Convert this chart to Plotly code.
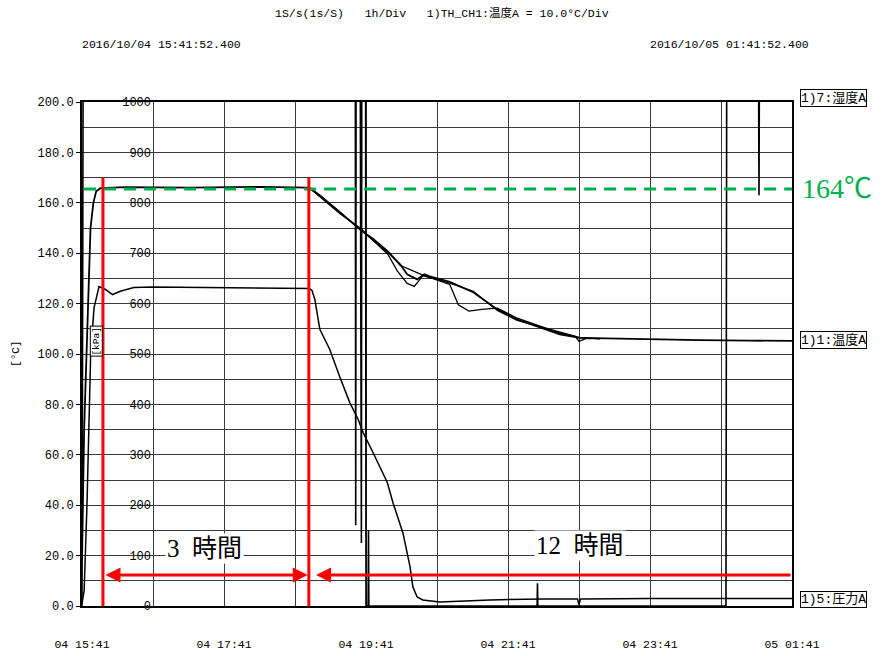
import plotly.graph_objects as go

# ---------------- data (hours since 2016/10/04 15:41:52) ----------------
temp_t = [0.0, 0.03, 0.075, 0.12, 0.16, 0.2, 0.26, 0.6, 1.5, 2.5, 3.2,
          3.35, 3.63, 3.92, 4.10, 4.31, 4.48, 4.58, 4.72, 4.82, 4.90, 5.18,
          5.51, 5.85, 6.13, 6.45, 6.73, 7.01, 7.30, 8.0, 8.7, 9.41, 10.0]
temp_v = [18, 70, 110, 150, 160, 164.6, 165.8, 166.2, 166.0, 166.3, 166.0,
          162.8, 156.2, 149.5, 145.5, 140.4, 135.6, 131.6, 129.6, 131.6, 130.8, 128.6,
          124.5, 117.7, 113.7, 110.5, 107.8, 106.4, 106.2, 105.8, 105.5, 105.3, 105.2]

temp2_t = [3.2, 3.35, 3.63, 3.92, 4.10, 4.31, 4.44, 4.58, 4.68, 4.80, 4.90,
           5.18, 5.51, 5.85, 6.13, 6.45, 6.73, 6.95, 7.0, 7.1, 7.3]
temp2_v = [166.0, 162.4, 155.8, 149.9, 145.0, 139.5, 133.0, 128.0, 126.8, 131.0, 130.4,
           128.1, 124.9, 117.3, 113.3, 110.9, 108.6, 107.0, 105.0, 106.2, 106.0]

temp3_t = [3.2, 3.35, 3.63, 3.92, 4.10, 4.31, 4.48, 4.80, 5.18, 5.30, 5.45,
           5.63, 5.85, 6.13, 6.45, 6.73, 7.0, 7.3]
temp3_v = [166.0, 163.1, 156.5, 149.2, 145.8, 140.8, 135.2, 131.3, 127.6, 119.5, 117.0,
           117.7, 118.2, 114.2, 111.1, 108.3, 106.6, 106.1]

pres_t = [0.0, 0.03, 0.07, 0.10, 0.122, 0.17, 0.24, 0.33, 0.43, 0.55, 0.73, 1.0,
          1.5, 2.0, 2.5, 3.0, 3.2, 3.24, 3.28, 3.35, 3.49, 3.63, 3.77, 3.89,
          3.96, 4.10, 4.30, 4.38, 4.52, 4.62, 4.66, 4.72, 4.80, 5.04, 5.75,
          6.5, 6.98, 7.0, 7.02, 8.0, 9.0, 10.0]
pres_v = [5, 30, 200, 354, 499, 592, 634, 628, 618, 625, 632, 633,
          632, 631, 630, 630, 630, 626, 608, 549, 509, 455, 404, 370,
          344, 304, 245, 205, 145, 78, 38, 18, 12, 8, 12,
          14, 14, 2, 14, 15, 15, 15]

# humidity is off-scale (above 200) most of the time
hum_t = [0.0, 0.015, 3.85, 3.855, 3.86, 3.92, 3.925, 3.935, 3.94, 3.995, 4.0,
         4.03, 4.035, 4.04, 6.41, 6.415, 6.42, 9.07, 9.08, 9.53, 9.535, 9.54, 10.0]
hum_v = [0, 203, 203, 32, 203, 203, 25, 25, 203, 203, 0,
         0, 30, 0, 0, 9, 0, 0, 203, 203, 163, 203, 203]

x_tick_vals = [0, 2, 4, 6, 8, 10]
x_tick_text = ["04 15:41", "04 17:41", "04 19:41", "04 21:41", "04 23:41", "05 01:41"]
y_tick_vals = [0, 20, 40, 60, 80, 100, 120, 140, 160, 180, 200]
y_tick_text = ["0.0", "20.0", "40.0", "60.0", "80.0", "100.0", "120.0",
               "140.0", "160.0", "180.0", "200.0"]

phase_marks = [0.295, 3.195]          # start / end of holding (h)
hold_level = 165.5                    # holding temperature line
hold_label = "164℃"
arrow_level = 12.3
arrow1 = [0.31, 3.18]
arrow2 = [3.296, 10.0]
phase_texts = ["3\u2002時間", "12\u2002時間"]
phase_text_pos = [(1.72, 23.0), (7.01, 24.0)]

header = "1S/s(1s/S)   1h/Div   1)TH_CH1:温度A = 10.0°C/Div"
date_left = "2016/10/04 15:41:52.400"
date_right = "2016/10/05 01:41:52.400"
ch_labels = [("1)7:湿度A", 201.5), ("1)1:温度A", 105.5), ("1)5:圧力A", 2.5)]

# ---------------- figure ----------------
MONO = "Liberation Mono, Noto Sans CJK JP, monospace"
SERIF = "Liberation Serif, Noto Sans CJK JP"
Y_MAX = 200.0
fig = go.Figure()

fig.add_trace(go.Scatter(x=hum_t, y=hum_v, mode="lines", line=dict(color="black", width=1.6),
                         showlegend=False, hoverinfo="skip"))
fig.add_trace(go.Scatter(x=temp2_t, y=temp2_v, mode="lines", line=dict(color="black", width=1.3),
                         showlegend=False))
fig.add_trace(go.Scatter(x=temp3_t, y=temp3_v, mode="lines", line=dict(color="black", width=1.3),
                         showlegend=False))
fig.add_trace(go.Scatter(x=temp_t, y=temp_v, mode="lines", line=dict(color="black", width=1.8),
                         showlegend=False))
fig.add_trace(go.Scatter(x=pres_t, y=pres_v, mode="lines", yaxis="y2",
                         line=dict(color="black", width=1.5), showlegend=False))

# holding level dashed line
fig.add_trace(go.Scatter(x=[0.03, 10.0], y=[hold_level, hold_level], mode="lines",
                         line=dict(color="#00B050", width=3, dash="12px,8px"),
                         showlegend=False, cliponaxis=False))

# red vertical phase lines
for m in phase_marks:
    fig.add_shape(type="line", x0=m, x1=m, y0=-0.6, y1=170, xref="x", yref="y",
                  line=dict(color="#FF0000", width=3))

annotations = []
# arrows
annotations.append(dict(x=arrow1[1], y=arrow_level, ax=arrow1[0], ay=arrow_level,
                        xref="x", yref="y", axref="x", ayref="y", text="", showarrow=True,
                        arrowhead=2, startarrowhead=2, arrowside="end+start", arrowsize=1,
                        startarrowsize=1, arrowwidth=3, arrowcolor="#FF0000"))
annotations.append(dict(x=arrow2[0], y=arrow_level, ax=arrow2[1], ay=arrow_level,
                        xref="x", yref="y", axref="x", ayref="y", text="", showarrow=True,
                        arrowhead=2, arrowsize=1, arrowwidth=3, arrowcolor="#FF0000"))
for txt, (px, py) in zip(phase_texts, phase_text_pos):
    annotations.append(dict(x=px, y=py, xref="x", yref="y", text=txt, showarrow=False,
                            xanchor="center", yanchor="middle",
                            font=dict(family=SERIF, size=25, color="black"),
                            bgcolor="white", borderpad=1))
# green label
annotations.append(dict(x=1.011, y=hold_level / Y_MAX, xref="paper", yref="paper",
                        text=hold_label, showarrow=False, xanchor="left", yanchor="middle",
                        font=dict(family=SERIF, size=28, color="#00B050")))
# channel labels
for txt, yv in ch_labels:
    annotations.append(dict(x=1.011, y=yv / Y_MAX, xref="paper", yref="paper", text=txt,
                            showarrow=False, xanchor="left", yanchor="middle",
                            font=dict(family=MONO, size=13, color="black"),
                            bordercolor="black", borderwidth=1, borderpad=0, bgcolor="white"))
# header and dates
annotations.append(dict(x=0.507, y=1.1766, xref="paper", yref="paper", text=header,
                        showarrow=False, xanchor="center", yanchor="middle",
                        font=dict(family=MONO, size=11.5, color="black")))
annotations.append(dict(x=-0.003, y=1.115, xref="paper", yref="paper", text=date_left,
                        showarrow=False, xanchor="left", yanchor="middle",
                        font=dict(family=MONO, size=11.5, color="black")))
annotations.append(dict(x=0.797, y=1.115, xref="paper", yref="paper", text=date_right,
                        showarrow=False, xanchor="left", yanchor="middle",
                        font=dict(family=MONO, size=11.5, color="black")))
# axis unit labels
annotations.append(dict(x=-0.093, y=0.5, xref="paper", yref="paper", text="[°C]",
                        showarrow=False, textangle=-90, xanchor="center", yanchor="middle",
                        font=dict(family=MONO, size=11, color="black")))
annotations.append(dict(x=0.2, y=105, xref="x", yref="y", text="[kPa]",
                        showarrow=False, textangle=-90, xanchor="center", yanchor="middle",
                        bgcolor="white", bordercolor="black", borderwidth=1, borderpad=0,
                        font=dict(family=MONO, size=9.5, color="black")))

grid_c = "#3a3a3a"
fig.update_layout(
    width=882, height=656,
    margin=dict(l=82, r=90, t=102, b=50, autoexpand=False),
    paper_bgcolor="white", plot_bgcolor="white",
    annotations=annotations,
    xaxis=dict(range=[0, 10], tickvals=x_tick_vals, ticktext=x_tick_text, automargin=False,
               showgrid=True, gridcolor=grid_c, gridwidth=1.2,
               minor=dict(dtick=1, showgrid=True, gridcolor=grid_c, gridwidth=1.2),
               showline=True, linecolor="black", linewidth=2, mirror=True,
               ticks="", ticklabelstandoff=26, zeroline=False,
               tickfont=dict(family=MONO, size=11.5, color="black")),
    yaxis=dict(range=[0, Y_MAX], tickvals=y_tick_vals, ticktext=y_tick_text, automargin=False,
               showgrid=True, gridcolor=grid_c, gridwidth=1.2,
               minor=dict(dtick=10, showgrid=True, gridcolor=grid_c, gridwidth=1.2),
               showline=True, linecolor="black", linewidth=2, mirror=True,
               ticks="outside", ticklen=4, tickcolor="black", zeroline=False,
               tickfont=dict(family=MONO, size=12, color="black")),
    yaxis2=dict(range=[0, 1000], overlaying="y", anchor="free", position=0.1, side="left",
                dtick=100, showgrid=False, showline=False, zeroline=False, automargin=False,
                ticks="", ticklabelstandoff=2,
                tickfont=dict(family=MONO, size=12, color="black")),
)

fig.write_html("out.html", config={"displayModeBar": False},
               post_script="document.body.style.margin='0';document.body.style.overflow='hidden';")
